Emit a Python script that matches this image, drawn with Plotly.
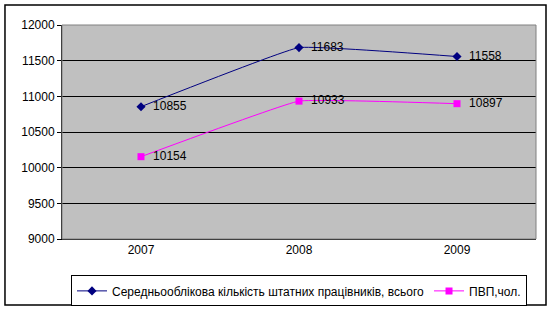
import plotly.graph_objects as go

years = ["2007", "2008", "2009"]
total_staff = [10855, 11683, 11558]
pvp = [10154, 10933, 10897]
name_total = "Середньооблікова кількість штатних працівників, всього"
name_pvp = "ПВП,чол."
y_ticks = [9000, 9500, 10000, 10500, 11000, 11500, 12000]

font = "Liberation Sans, Arial, sans-serif"

fig = go.Figure()
fig.add_trace(go.Scatter(
    x=years, y=total_staff, name=name_total, mode="lines+markers+text",
    line=dict(color="#000080", width=1, shape="spline", smoothing=0.25),
    marker=dict(symbol="diamond", size=7, color="#000080"),
    text=["  " + str(v) for v in total_staff], textposition="middle right",
    textfont=dict(family=font, size=12, color="black"),
))
fig.add_trace(go.Scatter(
    x=years, y=pvp, name=name_pvp, mode="lines+markers+text",
    line=dict(color="#FF00FF", width=1, shape="spline", smoothing=0.25),
    marker=dict(symbol="square", size=7, color="#FF00FF"),
    text=["  " + str(v) for v in pvp], textposition="middle right",
    textfont=dict(family=font, size=12, color="black"),
))

fig.update_layout(
    width=552, height=310,
    margin=dict(l=62, r=16, t=25, b=71, autoexpand=False),
    paper_bgcolor="white",
    plot_bgcolor="#C0C0C0",
    font=dict(family=font, size=12, color="black"),
    showlegend=True,
    legend=dict(
        orientation="h", x=0.5, xanchor="center", y=-0.17, yanchor="top",
        bordercolor="black", borderwidth=1, bgcolor="white",
        font=dict(family=font, size=12), itemwidth=30,
        tracegroupgap=0,
    ),
    xaxis=dict(
        type="category", range=[-0.5, 2.5], showgrid=False,
        showline=True, linecolor="black", linewidth=1,
        ticks="", tickfont=dict(size=12), fixedrange=True,
    ),
    yaxis=dict(
        range=[9000, 12000], tickvals=y_ticks, ticktext=[str(v) for v in y_ticks],
        showgrid=True, gridcolor="black", gridwidth=1,
        showline=True, linecolor="black", linewidth=1,
        ticks="outside", ticklen=4, tickcolor="black",
        tickfont=dict(size=12), zeroline=False,
    ),
    shapes=[
        dict(type="rect", xref="paper", yref="paper", x0=0, x1=1, y0=0, y1=1,
             line=dict(color="#808080", width=1), layer="above"),
        dict(type="rect", xref="paper", yref="paper",
             x0=-0.1203, x1=1.0211, y0=-0.3084, y1=1.0935,
             line=dict(color="black", width=1.5)),
    ],
)

fig.write_html("out.html")
